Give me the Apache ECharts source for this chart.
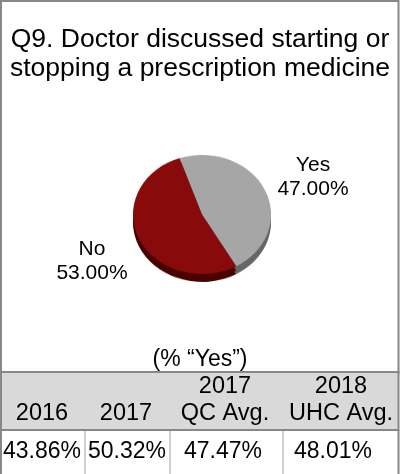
<!DOCTYPE html>
<html>
<head>
<meta charset="utf-8">
<script src="https://cdn.jsdelivr.net/npm/echarts@6/dist/echarts.min.js"></script>
<style>
  html, body { margin: 0; padding: 0; background: #ffffff; }
  #wrap { position: relative; width: 405px; height: 474px; overflow: hidden; }
  #chart { position: absolute; left: 0; top: 0; width: 405px; height: 474px; }
  /* the pie is drawn round, then flattened into a tilted ellipse */
  #pie { position: absolute; left: 132px; top: 154px; width: 140px; height: 160px;
         transform: scaleY(0.864); transform-origin: 0 0; }
</style>
</head>
<body>
<div id="wrap">
  <div id="chart"></div>
  <div id="pie"></div>
</div>
<script>
// Survey answer split
const sliceNames = ['Yes', 'No'];
const sliceValues = [47.00, 53.00];

// Comparison table (% "Yes")
const columnTopLines = ['', '', '2017', '2018'];
const columnBottomLines = ['2016', '2017', 'QC Avg.', 'UHC Avg.'];
const yesRates = [43.86, 50.32, 47.47, 48.01];

const titleLines = ['Q9. Doctor discussed starting or', 'stopping a prescription medicine'];
const tableCaption = '(% \u201CYes\u201D)';

const FONT = '"Liberation Sans", Arial, sans-serif';
const topColors = ['#a6a6a6', '#880a0a'];
const sideColors = ['#666666', '#480202'];

// ---------- frame, title, labels and table ----------
const chart = echarts.init(document.getElementById('chart'), null, { renderer: 'canvas' });

const headX = [42, 126, 225, 341];      // header text centres
const valueX = [42, 127, 223, 333];     // value text centres
const colDividers = [85, 170, 283];

const g = [];
// outer box of the chart area
g.push({ type: 'rect', shape: { x: 1, y: 1, width: 397.5, height: 372 },
  style: { fill: '#ffffff', stroke: '#878787', lineWidth: 2 } });
// header band
g.push({ type: 'rect', shape: { x: 1, y: 372, width: 397.5, height: 58 },
  style: { fill: '#d9d9d9', stroke: '#878787', lineWidth: 2 } });
// value row borders
g.push({ type: 'line', shape: { x1: 1, y1: 430, x2: 1, y2: 474 }, style: { stroke: '#878787', lineWidth: 2 } });
g.push({ type: 'line', shape: { x1: 398.5, y1: 430, x2: 398.5, y2: 474 }, style: { stroke: '#878787', lineWidth: 2 } });
colDividers.forEach(function (x) {
  g.push({ type: 'line', shape: { x1: x, y1: 431, x2: x, y2: 474 }, style: { stroke: '#a0a0a0', lineWidth: 1 } });
});

titleLines.forEach(function (t, i) {
  g.push({ type: 'text', x: 200, y: 40 + i * 28.5,
    style: { text: t, font: '26.5px ' + FONT, fill: '#000', textAlign: 'center', textVerticalAlign: 'middle' } });
});

// slice labels
const labelPos = [[313, 177.5], [92, 261.5]];
sliceNames.forEach(function (n, i) {
  g.push({ type: 'text', x: labelPos[i][0], y: labelPos[i][1],
    style: { text: n + '\n' + sliceValues[i].toFixed(2) + '%', font: '21px ' + FONT, fill: '#000',
      textAlign: 'center', textVerticalAlign: 'middle', lineHeight: 24 } });
});

g.push({ type: 'text', x: 200, y: 360,
  style: { text: tableCaption, font: '23px ' + FONT, fill: '#000', textAlign: 'center', textVerticalAlign: 'middle' } });

columnBottomLines.forEach(function (b, i) {
  if (columnTopLines[i]) {
    g.push({ type: 'text', x: headX[i], y: 387,
      style: { text: columnTopLines[i], font: '23.5px ' + FONT, fill: '#000', textAlign: 'center', textVerticalAlign: 'middle' } });
  }
  g.push({ type: 'text', x: headX[i], y: 414,
    style: { text: b, font: '23.5px ' + FONT, fill: '#000', textAlign: 'center', textVerticalAlign: 'middle' } });
  g.push({ type: 'text', x: valueX[i], y: 452,
    style: { text: yesRates[i].toFixed(2) + '%', font: '23px ' + FONT, fill: '#000', textAlign: 'center', textVerticalAlign: 'middle' } });
});

chart.setOption({ animation: false, graphic: g });

// ---------- tilted pie ----------
const pie = echarts.init(document.getElementById('pie'), null, { renderer: 'canvas' });
function pieSeries(cy, colors, z) {
  return {
    type: 'pie', center: [70, cy], radius: [0, 69], startAngle: 109, clockwise: true,
    silent: true, z: z, label: { show: false }, labelLine: { show: false },
    itemStyle: { borderWidth: 0 },
    data: sliceNames.map(function (n, i) {
      return { name: n, value: sliceValues[i], itemStyle: { color: colors[i] } };
    })
  };
}
pie.setOption({
  animation: false,
  series: [
    pieSeries(79, sideColors, 1),
    pieSeries(75, sideColors, 2),
    pieSeries(70, topColors, 3)
  ]
});
</script>
</body>
</html>
